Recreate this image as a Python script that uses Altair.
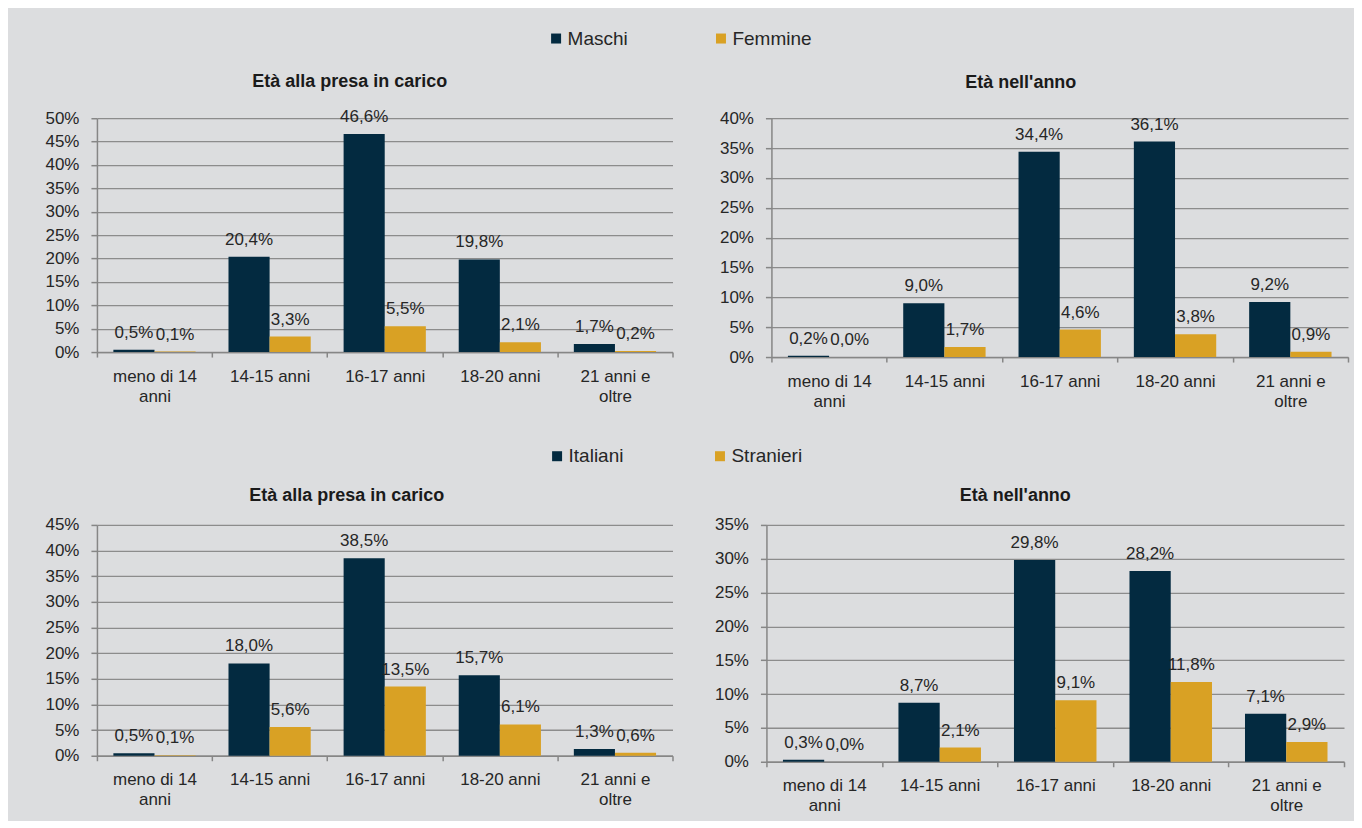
import json
import altair as alt
import pandas as pd

FONT = "Liberation Sans"
NAVY = "#032a40"
GOLD = "#d9a124"
BG = "#dcdddf"
TEXT = "#262626"
AXIS = "#868686"
GRID = "#8c8c8c"

categories = ["meno di 14 anni", "14-15 anni", "16-17 anni", "18-20 anni", "21 anni e oltre"]
category_lines = [["meno di 14", "anni"], ["14-15 anni"], ["16-17 anni"], ["18-20 anni"], ["21 anni e", "oltre"]]

gender_groups = ["Maschi", "Femmine"]
origin_groups = ["Italiani", "Stranieri"]

title_presa = "Età alla presa in carico"
title_anno = "Età nell'anno"

presa_maschi = [0.5, 20.4, 46.6, 19.8, 1.7]
presa_femmine = [0.1, 3.3, 5.5, 2.1, 0.2]
anno_maschi = [0.2, 9.0, 34.4, 36.1, 9.2]
anno_femmine = [0.0, 1.7, 4.6, 3.8, 0.9]
presa_italiani = [0.5, 18.0, 38.5, 15.7, 1.3]
presa_stranieri = [0.1, 5.6, 13.5, 6.1, 0.6]
anno_italiani = [0.3, 8.7, 29.8, 28.2, 7.1]
anno_stranieri = [0.0, 2.1, 9.1, 11.8, 2.9]

y_max_values = [50, 40, 45, 35]
y_step = 5

label_expr = "".join(
    f"datum.value == {json.dumps(c)} ? {json.dumps(lines)} : "
    for c, lines in zip(categories, category_lines)
) + "datum.value"


def panel(first, second, groups, title, y_max, y_extent, width, height, title_offset, title_dx):
    df = pd.DataFrame({
        "cat": categories + categories,
        "group": [groups[0]] * len(categories) + [groups[1]] * len(categories),
        "value": first + second,
    })
    x = alt.X(
        "cat:N", sort=categories, title=None,
        scale=alt.Scale(paddingInner=0, paddingOuter=0),
        axis=alt.Axis(
            labelAngle=0, labelExpr=label_expr, tickBand="extent", tickSize=5,
            labelPadding=11, labelFontSize=17, labelLineHeight=20, labelColor=TEXT,
            labelFont=FONT, domainColor=AXIS, tickColor=AXIS, domainWidth=1.5,
            tickWidth=1.5, grid=False,
        ),
    )
    xo = alt.XOffset("group:N", sort=groups, scale=alt.Scale(paddingInner=0, paddingOuter=0.4))
    tick_values = list(range(0, y_max + 1, y_step))
    y = alt.Y(
        "value:Q", title=None,
        scale=alt.Scale(domain=[0, y_max], nice=False, zero=True),
        axis=alt.Axis(
            values=tick_values, tickCount=len(tick_values), labelOverlap=False,
            labelExpr="datum.value + '%'",
            tickSize=6, labelPadding=12, labelFontSize=17, labelColor=TEXT, labelFont=FONT,
            domainColor=AXIS, tickColor=AXIS, domainWidth=1.5, tickWidth=1.5,
            grid=True, gridColor=GRID, gridWidth=1.3,
            minExtent=y_extent, maxExtent=y_extent,
        ),
    )
    color = alt.Color("group:N", sort=groups,
                      scale=alt.Scale(domain=groups, range=[NAVY, GOLD]), legend=None)
    bars = alt.Chart(df).mark_bar().encode(x=x, xOffset=xo, y=y, color=color)
    labels = alt.Chart(df).transform_calculate(
        lbl="replace(format(datum.value, '.1f'), '.', ',') + '%'"
    ).mark_text(baseline="bottom", dy=-8, fontSize=17, font=FONT, color=TEXT).encode(
        x=x, xOffset=xo, y=y, text="lbl:N"
    )
    return alt.layer(
        bars, labels,
        title=alt.TitleParams(title, frame="group", offset=title_offset, baseline="middle",
                              dx=title_dx, fontSize=18, font=FONT, fontWeight="bold",
                              color="#1a1a1a", anchor="middle"),
    ).properties(width=width, height=height)


def legend_chart(groups, width, height, lx, ly, col_pad):
    df = pd.DataFrame({"group": groups})
    return alt.Chart(df).mark_square(opacity=0, size=1).encode(
        x=alt.value(0), y=alt.value(0),
        color=alt.Color(
            "group:N", sort=groups,
            scale=alt.Scale(domain=groups, range=[NAVY, GOLD]),
            legend=alt.Legend(
                title=None, orient="none", legendX=lx, legendY=ly, direction="horizontal",
                columns=2, gridAlign="all", columnPadding=col_pad, symbolType="square",
                symbolSize=100, symbolOpacity=1, symbolStrokeWidth=0, labelFontSize=19,
                labelFont=FONT, labelColor=TEXT, labelOffset=2, padding=0,
            ),
        ),
    ).properties(width=width, height=height)


tl = panel(presa_maschi, presa_femmine, gender_groups, title_presa, y_max_values[0], 50, 576, 234, 8, -35)
tr = panel(anno_maschi, anno_femmine, gender_groups, title_anno, y_max_values[1], 50, 577, 239, 8, -39)
bl = panel(presa_italiani, presa_stranieri, origin_groups, title_presa, y_max_values[2], 55, 576, 231, 2, -38)
br = panel(anno_italiani, anno_stranieri, origin_groups, title_anno, y_max_values[3], 50, 578, 237, 2, -40)

leg1 = legend_chart(gender_groups, 1000, 41, 450, -1.5, 64)
leg2 = legend_chart(origin_groups, 1000, 74, 451, 35.5, 71)

row1 = alt.hconcat(tl, tr, spacing=44).resolve_scale(xOffset="independent")
row2 = alt.hconcat(bl, br, spacing=39).resolve_scale(xOffset="independent")

chart = alt.vconcat(leg1, row1, leg2, row2, spacing=0).resolve_scale(
    color="independent", xOffset="independent"
).properties(
    background=BG,
    padding={"left": 33, "top": 20, "right": 4, "bottom": 6},
).configure(font=FONT).configure_view(stroke="transparent")

chart.save("out.html", embed_options={"renderer": "svg", "actions": False})
